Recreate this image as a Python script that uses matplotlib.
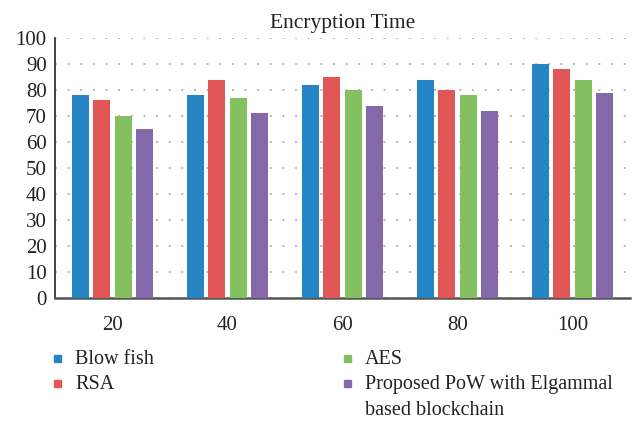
import matplotlib
matplotlib.use("Agg")
import matplotlib.pyplot as plt
import numpy as np
from matplotlib.patches import Rectangle

categories = ["20", "40", "60", "80", "100"]
series_names = ["Blow fish", "RSA", "AES", "Proposed PoW with Elgammal\nbased blockchain"]
blowfish = [78, 78, 82, 84, 90]
rsa = [76, 84, 85, 80, 88]
aes = [70, 77, 80, 78, 84]
proposed = [65, 71, 74, 72, 79]
colors = ["#2584c3", "#e05755", "#84c060", "#8568a9"]
yticks = [0, 10, 20, 30, 40, 50, 60, 70, 80, 90, 100]

plt.rcParams['font.family'] = ['Liberation Serif', 'DejaVu Serif']

W, H = 634, 421
fig = plt.figure(figsize=(W / 100, H / 100), dpi=100)
ax = fig.add_axes([55 / W, 1 - 298 / H, (630 - 55) / W, (298 - 38) / H])

x = np.arange(len(categories))
data = [blowfish, rsa, aes, proposed]
bw = 0.149
step = 0.185
offsets = (np.arange(4) - 1.5) * step
for i, vals in enumerate(data):
    ax.bar(x + offsets[i], vals, width=bw, color=colors[i], zorder=3)

ax.set_xlim(-0.5, len(categories) - 0.5)
ax.set_ylim(0, 100)
ax.set_yticks(yticks)
ax.set_xticks(x)
ax.set_xticklabels(categories)
ax.tick_params(axis='both', length=0, labelsize=15, colors='#222222')
ax.tick_params(axis='x', pad=13)
ax.tick_params(axis='y', pad=6)
ax.yaxis.grid(True, linestyle=(0, (1, 6)), color='#aaaaaa', linewidth=1.3, zorder=0)
ax.set_axisbelow(True)
for s in ['top', 'right']:
    ax.spines[s].set_visible(False)
ax.spines['left'].set_color('#222222')
ax.spines['left'].set_linewidth(1.2)
ax.spines['bottom'].set_color('#555555')
ax.spines['bottom'].set_linewidth(1.8)
ax.set_title("Encryption Time", fontsize=15.5, color='#222222', pad=7)

# legend
col_marker_x = [57, 347]
col_text_x = [75, 365]
row_y = [358, 383]
for i, name in enumerate(series_names):
    c, r = i // 2, i % 2
    mx, my = col_marker_x[c], row_y[r]
    fig.patches.append(Rectangle(((mx - 3.5) / W, 1 - (my + 3.5) / H), 7 / W, 7 / H,
                                 transform=fig.transFigure, color=colors[i]))
    fig.text(col_text_x[c] / W, 1 - (my - 8) / H, name, fontsize=14.5, color='#222222',
             va='top', ha='left', linespacing=1.5)

fig.savefig("out.png", dpi=100)
